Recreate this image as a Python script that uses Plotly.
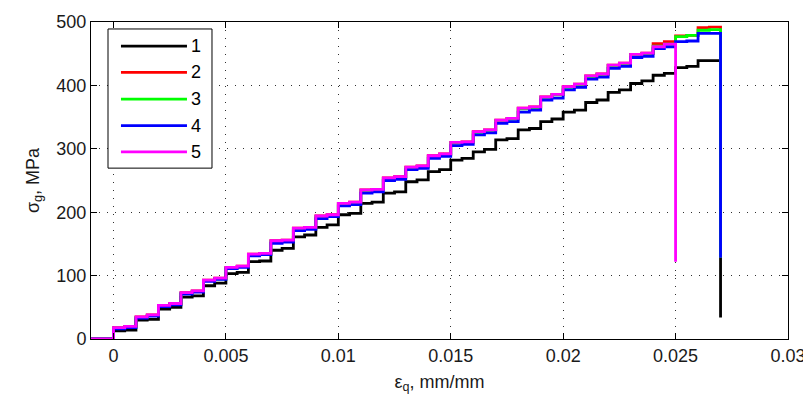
import plotly.graph_objects as go

# step positions (strain, mm/mm)
strain = [-0.001, 0.0, 0.0005, 0.001, 0.0015, 0.002, 0.0025, 0.003, 0.0035, 0.004, 0.0045,
          0.005, 0.0055, 0.006, 0.0065, 0.007, 0.0075, 0.008, 0.0085, 0.009, 0.0095,
          0.010, 0.0105, 0.011, 0.0115, 0.012, 0.0125, 0.013, 0.0135, 0.014, 0.0145,
          0.015, 0.0155, 0.016, 0.0165, 0.017, 0.0175, 0.018, 0.0185, 0.019, 0.0195,
          0.020, 0.0205, 0.021, 0.0215, 0.022, 0.0225, 0.023, 0.0235, 0.024, 0.0245,
          0.025, 0.0255, 0.026, 0.0265]

# stress levels (MPa) at each step position
s1 = [0, 13, 14, 30, 31, 47, 50, 66, 68, 84, 88, 103, 105, 122, 123, 140, 143, 161, 164,
      176, 180, 196, 198, 214, 216, 230, 232, 248, 251, 264, 267, 282, 285, 295, 299,
      314, 316, 330, 332, 343, 347, 358, 361, 373, 377, 389, 393, 403, 407, 416, 419,
      428, 430, 439, 439]
s2 = [0, 18, 20, 35, 38, 53, 56, 73, 76, 93, 96, 113, 115, 134, 135, 155, 156, 175, 176,
      194, 196, 214, 216, 235, 236, 254, 256, 271, 273, 289, 292, 310, 311, 327, 330,
      345, 348, 364, 366, 382, 386, 398, 402, 415, 418, 432, 435, 449, 451, 466, 469,
      478, 479, 491, 492]
s3 = [0, 17, 19, 34, 37, 52, 55, 72, 75, 92, 95, 112, 114, 133, 134, 154, 155, 174, 175,
      193, 195, 213, 215, 234, 235, 253, 255, 270, 272, 288, 291, 309, 310, 326, 329,
      344, 347, 363, 365, 381, 385, 397, 401, 414, 417, 431, 434, 448, 450, 462, 465,
      477, 479, 487, 488]
s4 = [0, 16, 18, 33, 36, 51, 54, 71, 74, 91, 94, 111, 113, 131, 133, 151, 153, 171, 173,
      190, 193, 210, 212, 230, 232, 250, 252, 267, 269, 285, 288, 305, 307, 322, 325,
      340, 343, 358, 361, 377, 380, 393, 397, 410, 413, 427, 430, 444, 446, 458, 461,
      469, 470, 482, 482]
s5 = [0, 18, 20, 35, 38, 53, 56, 73, 76, 93, 96, 113, 115, 134, 135, 155, 156, 175, 176,
      194, 196, 214, 216, 235, 236, 254, 256, 271, 273, 289, 292, 310, 311, 327, 330,
      345, 348, 364, 366, 382, 386, 398, 402, 415, 418, 432, 435, 449, 451, 461, 465]

# failure points: (strain at failure, residual stress)
fail_strain = [0.027, 0.027, 0.027, 0.027, 0.025]
fail_stress = [34, 128, 128, 128, 122]

series = [s1, s2, s3, s4, s5]
names = ["1", "2", "3", "4", "5"]
colors = ["#000000", "#FF0000", "#00FF00", "#0000FF", "#FF00FF"]

x_ticks = [0, 0.005, 0.01, 0.015, 0.02, 0.025, 0.03]
x_ticktext = ["0", "0.005", "0.01", "0.015", "0.02", "0.025", "0.03"]
y_ticks = [0, 100, 200, 300, 400, 500]

FONT = "Liberation Sans, Arial, sans-serif"

fig = go.Figure()
for s, n, c, fx, fy in zip(series, names, colors, fail_strain, fail_stress):
    xs = strain[:len(s)] + [fx]
    ys = s + [fy]
    fig.add_trace(go.Scatter(x=xs, y=ys, mode="lines", name=n,
                             line=dict(color=c, width=2.8, shape="hv"),
                             showlegend=False))

# MATLAB-style legend box
shapes = [dict(type="rect", xref="paper", yref="paper", x0=0.0244, x1=0.1736,
               y0=0.539, y1=0.978, line=dict(color="black", width=1),
               fillcolor="white", layer="above")]
annotations = []
item_y = [0.924, 0.841, 0.757, 0.673, 0.590]
for n, c, yy in zip(names, colors, item_y):
    shapes.append(dict(type="line", xref="paper", yref="paper", x0=0.043, x1=0.1377,
                       y0=yy, y1=yy, line=dict(color=c, width=2.8), layer="above"))
    annotations.append(dict(xref="paper", yref="paper", x=0.141, y=yy, text=n,
                            showarrow=False, xanchor="left", yanchor="middle",
                            font=dict(family=FONT, size=18, color="black")))

axis_common = dict(showline=True, linecolor="black", linewidth=1, mirror="allticks",
                   ticks="inside", ticklen=6, tickcolor="black", automargin=False,
                   showgrid=True, gridcolor="#303030", gridwidth=1, griddash="1px,7px",
                   zeroline=False, tickfont=dict(family=FONT, size=18, color="#1a1a1a"))

fig.update_layout(
    width=811, height=405,
    margin=dict(l=83, r=31, t=14, b=74),
    paper_bgcolor="white", plot_bgcolor="white",
    shapes=shapes, annotations=annotations,
    xaxis=dict(range=[-0.001, 0.03], tickvals=x_ticks, ticktext=x_ticktext,
               title=dict(text="ε<sub>q</sub>, mm/mm", standoff=10,
                          font=dict(family=FONT, size=18, color="#1a1a1a")),
               **axis_common),
    yaxis=dict(range=[0, 500], tickvals=y_ticks,
               title=dict(text="σ<sub>g</sub>, MPa", standoff=12,
                          font=dict(family=FONT, size=18, color="#1a1a1a")),
               **axis_common),
)

fig.write_html("out.html")
